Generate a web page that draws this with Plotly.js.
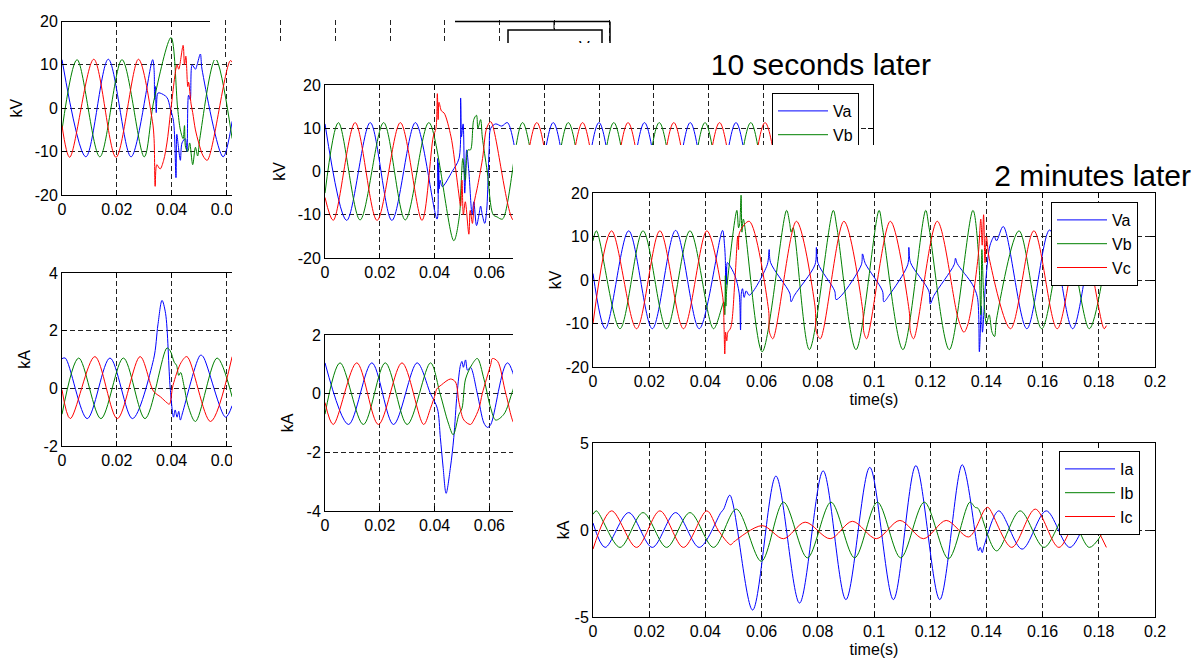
<!DOCTYPE html>
<html>
<head>
<meta charset="utf-8">
<script src="https://cdn.plot.ly/plotly-3.0.1.min.js"></script>
<style>
  html, body { margin: 0; padding: 0; background: #fff; }
  body { position: relative; width: 1198px; height: 663px; overflow: hidden; }
  .shot { position: absolute; background: #fff; overflow: hidden; }
</style>
</head>
<body>
<div id="shot1" class="shot" style="left:0px;top:0px;width:620px;height:663px"></div>
<div id="shot2" class="shot" style="left:210px;top:0px;width:420px;height:60px"></div>
<div id="shot3" class="shot" style="left:232px;top:43px;width:966px;height:620px"></div>
<div id="shot4" class="shot" style="left:513px;top:145px;width:685px;height:518px"></div>
<script>
// ---------------- tick labels ----------------
const timeTickVals = [0, 0.02, 0.04, 0.06, 0.08, 0.1, 0.12, 0.14, 0.16, 0.18, 0.2];
const timeTickText = ['0', '0.02', '0.04', '0.06', '0.08', '0.1', '0.12', '0.14', '0.16', '0.18', '0.2'];
const kvTickVals = [-20, -10, 0, 10, 20];
const kvTickText = ['-20', '-10', '0', '10', '20'];
const kaTickValsB = [-2, 0, 2, 4];
const kaTickTextB = ['-2', '0', '2', '4'];
const kaTickValsD = [-4, -2, 0, 2];
const kaTickTextD = ['-4', '-2', '0', '2'];
const kaTickValsF = [-5, 0, 5];
const kaTickTextF = ['-5', '0', '5'];

// ---------------- first capture: voltages (kV) ----------------
const A_va_t = [0,0.0087,0.0169,0.0252,0.0331,0.0336,0.0338,0.0341,0.0344,0.0350,0.0358,0.0383,0.0395,0.0407,0.0416,0.0419,0.0425,0.0432,0.0438,0.0450,0.0456,0.0462,0.0468,0.0475,0.0487,0.0493,0.0505,0.0511,0.0588,0.0621];
const A_va_v = [11.2,-11.2,11.3,-11.2,11.2,9,2,5,-1,3.5,3.5,2.5,0,-3,-16,-6,-9,-12,-8,-7,-10,3,2,10,9,10,12.5,9,-11.2,-3];
const A_vb_t = [0,0.0055,0.0138,0.0219,0.0300,0.0336,0.0398,0.0422,0.0432,0.0442,0.0447,0.0451,0.0459,0.0466,0.0477,0.0487,0.0495,0.0503,0.0560,0.0621];
const A_vb_v = [-5,11.2,-11.2,11.2,-11.2,2,16.3,0,-5,-7,-4,-9,-10,-8,-13,-9,-11,-7,11.4,-7];
const A_vc_t = [0,0.0028,0.0116,0.0197,0.0279,0.0330,0.0336,0.0340,0.0346,0.0358,0.0371,0.0383,0.0389,0.0398,0.0420,0.0426,0.0442,0.0447,0.0452,0.0459,0.0462,0.0471,0.0477,0.0487,0.0499,0.0515,0.0530,0.0615,0.0632];
const A_vc_v = [-4,-11.3,11.3,-11.3,11.3,-3,-7,-18,-13,-14,-12,-8,-5,0,10,9,14.5,10,12,5,6,1,-1,-5,-8,-11,-12,11,9];

// ---------------- first capture: currents (kA) ----------------
const B_ia_t = [0,0.0012,0.0092,0.0175,0.0257,0.0334,0.0350,0.0365,0.0378,0.0395,0.0407,0.0413,0.0420,0.0426,0.0432,0.0440,0.0505,0.0515,0.0597,0.0621];
const B_ia_v = [1.03,1.05,-1.05,1.05,-1.05,1.0,2.2,3.05,2.6,0,-1.0,-0.75,-1.0,-0.8,-1.1,-0.85,1.15,1.1,-1.0,-0.6];
const B_ib_t = [0,0.0061,0.0142,0.0224,0.0303,0.0383,0.0395,0.0410,0.0418,0.0426,0.0433,0.0445,0.0460,0.0487,0.0566,0.0621];
const B_ib_v = [-0.9,1.05,-1.05,1.05,-1.05,1.4,1.3,0.9,0.8,0.45,0.55,0.1,-0.6,-1.15,1.05,-0.3];
const B_ic_t = [0,0.0030,0.0120,0.0202,0.0285,0.0334,0.0360,0.0383,0.0392,0.0405,0.0435,0.0456,0.0542,0.0621];
const B_ic_v = [-0.05,-1.05,1.1,-1.05,1.1,-0.1,-0.3,-0.5,-0.55,0.1,0.9,1.1,-1.15,1.1];

// ---------------- 10 seconds later: voltages (kV) ----------------
const C_va_t = [0,0.0079,0.0165,0.0244,0.0330,0.0409,0.0411,0.0413,0.0415,0.0417,0.0420,0.0428,0.0464,0.0489,0.0495,0.0498,0.0504,0.0510,0.0517,0.0525,0.0537,0.0543,0.0553,0.0562,0.0568,0.0574,0.0583,0.0590,0.0599,0.0605,0.0623,0.0645,0.0666,0.0750,0.0833,0.0916,0.1000,0.1083,0.1166,0.1250,0.1333,0.1416,0.1500,0.1583,0.1666,0.1720];
const C_va_v = [11,-11.3,11.3,-11.3,11.3,-11,3,-5,2,-4,-2,-3.5,0,3,17,8,11,-5,5,0,-10,-7,-12.5,-10,-8,-10,-12,-9,5,10,11,10.5,11.3,-11.3,11.3,-11.3,11.3,-11.3,11.3,-11.3,11.3,-11.3,11.3,-11.3,11.3,0];
const C_vb_t = [0,0.0049,0.0128,0.0214,0.0293,0.0379,0.0470,0.0491,0.0496,0.0503,0.0512,0.0522,0.0531,0.0543,0.0553,0.0558,0.0568,0.0574,0.0592,0.0614,0.0628,0.0648,0.0721,0.0805,0.0888,0.0971,0.1054,0.1137,0.1220,0.1304,0.1387,0.1470,0.1554,0.1637,0.1720];
const C_vb_v = [-5,11.3,-11.2,11.3,-11.2,11.3,-16,-10,-4,3,-2,5,5,12,13,10,12,8,0,-10,-10.5,-11,11.3,-11.3,11.3,-11.3,11.3,-11.3,11.3,-11.3,11.3,-11.3,11.3,-11.3,5];
const C_vc_t = [0,0.0030,0.0110,0.0190,0.0275,0.0354,0.0395,0.0405,0.0410,0.0413,0.0416,0.0425,0.0435,0.0460,0.0478,0.0488,0.0495,0.0500,0.0505,0.0512,0.0525,0.0530,0.0538,0.0545,0.0555,0.0575,0.0590,0.0605,0.0689,0.0773,0.0856,0.0940,0.1023,0.1106,0.1190,0.1273,0.1356,0.1440,0.1523,0.1606,0.1690,0.1720];
const C_vc_v = [-6,-11.3,11.3,-11.3,11.3,-11.3,8,10,18,12,16,14,13.5,8,0,-5,-8,-2,-10,-7,-14.5,-9,-12,-7,-4,3,10,11.5,-11.3,11.3,-11.3,11.3,-11.3,11.3,-11.3,11.3,-11.3,11.3,-11.3,11.3,-11.3,-7];

// ---------------- 10 seconds later: currents (kA) ----------------
const D_ia_t = [0,0.0086,0.0171,0.0250,0.0336,0.0385,0.0410,0.0421,0.0431,0.0442,0.0458,0.0470,0.0482,0.0495,0.0500,0.0505,0.0513,0.0520,0.0531,0.0556,0.0580,0.0593,0.0605,0.0666,0.0750,0.0800];
const D_ia_v = [1.05,-1.05,1.05,-1.05,1.05,0,-0.5,-1.5,-2.5,-3.4,-2.5,-1.5,0,1.0,1.1,0.9,1.15,0.8,0.9,0,-1.0,-1.15,-1.05,1.05,-1.05,0];
const D_ib_t = [0,0.0055,0.0140,0.0220,0.0300,0.0385,0.0420,0.0450,0.0468,0.0489,0.0500,0.0513,0.0537,0.0556,0.0580,0.0605,0.0623,0.0653,0.0685,0.0720,0.0800];
const D_ib_v = [-0.7,1.05,-1.05,1.05,-1.05,1.05,0,-1.0,-1.4,-0.7,-0.5,0.5,1.0,1.2,0.5,-0.5,-0.9,-0.7,0.1,1.05,-0.5];
const D_ic_t = [0,0.0030,0.0116,0.0195,0.0281,0.0360,0.0385,0.0403,0.0407,0.0425,0.0458,0.0476,0.0489,0.0507,0.0531,0.0543,0.0562,0.0574,0.0605,0.0611,0.0630,0.0660,0.0695,0.0780];
const D_ic_v = [-0.3,-1.05,1.05,-1.05,1.05,-1.05,-0.5,0,0.15,0.3,0.5,0.4,-0.3,-0.9,-1.05,-0.9,-0.5,0,1.0,1.2,1.1,0,-1.05,1.05];

// ---------------- 2 minutes later: voltages (kV) ----------------
const E_va_t = [0,0.0044,0.0127,0.0211,0.0294,0.0378,0.0461,0.0468,0.0471,0.0472,0.0474,0.0476,0.0478,0.0485,0.0505,0.0520,0.0525,0.0528,0.0532,0.0538,0.0545,0.0556,0.0620,0.0627,0.0632,0.0700,0.0705,0.0717,0.0790,0.0795,0.0801,0.0860,0.0865,0.0885,0.0955,0.0959,0.0969,0.1030,0.1035,0.1054,0.1120,0.1124,0.1130,0.1195,0.1200,0.1214,0.1285,0.1290,0.1296,0.1350,0.1368,0.1375,0.1382,0.1386,0.1398,0.1413,0.1428,0.1436,0.1460,0.1544,0.1625,0.1707,0.1790,0.1827];
const E_va_v = [1.5,-11.2,11.3,-11.2,11.4,-11.2,11.4,8,4.5,-2,3,-1,4,3.5,1,-3,-11.5,-3,-2,-4,-2.5,-3.5,3.5,7,4,-3,-5,-3.5,3.5,7.5,3.8,-2.5,-4.5,-3.5,3.5,6,3.8,-2.5,-5,-3.5,3.5,7.5,4,-2.5,-5.5,-3.5,3.5,5,3.8,-1,-4,-16.5,-6,-12,0,8,10,9,12.3,-11.2,11.5,-11.2,11.3,8];
const E_vb_t = [0,0.0012,0.0096,0.0178,0.0262,0.0345,0.0429,0.0466,0.0469,0.0471,0.0473,0.0476,0.0512,0.0518,0.0522,0.0527,0.0530,0.0535,0.0602,0.0689,0.0700,0.0705,0.0712,0.0770,0.0855,0.0868,0.0936,0.1018,0.1030,0.1103,0.1184,0.1196,0.1268,0.1352,0.1372,0.1380,0.1384,0.1390,0.1400,0.1410,0.1420,0.1429,0.1436,0.1516,0.1597,0.1681,0.1766,0.1812];
const E_vb_v = [9,11.3,-11.2,11.3,-11.2,11.3,-11.2,-5,-8,1,-6,-2,16,12,13,19.5,11,14,-16.5,16,13,11,12,-16,16,12,-16,16,12,-16,16,12,-16,16,6,-8,7,-3,-10,-8,-12,-13,-9,11.3,-11.2,11.3,-11.2,0];
const E_vc_t = [0,0.0066,0.0155,0.0238,0.0322,0.0405,0.0462,0.0466,0.0469,0.0472,0.0476,0.0480,0.0490,0.0505,0.0515,0.0518,0.0522,0.0556,0.0625,0.0628,0.0640,0.0724,0.0790,0.0795,0.0809,0.0893,0.0960,0.0964,0.0974,0.1058,0.1125,0.1130,0.1141,0.1225,0.1300,0.1320,0.1335,0.1370,0.1380,0.1385,0.1390,0.1395,0.1400,0.1410,0.1486,0.1569,0.1652,0.1736,0.1819,0.1827];
const E_vc_v = [-10,11.3,-11.2,11.3,-11.2,11.3,-4,-10,-17,-12,-14,-12,-11,0,10,7,11,13.5,-7,-12,-13.5,13.5,-6,-12,-13.5,13.5,-7,-12,-13.5,13.5,-7,-12,-13.5,13.5,-9,-12,-10,5,14,8,15,4,10,5,-11.2,11.3,-11.2,11.3,-11.2,-10.5];

// ---------------- 2 minutes later: currents (kA) ----------------
const F_ia_t = [0,0.0043,0.0127,0.0211,0.0294,0.0378,0.0455,0.0465,0.0487,0.0568,0.0651,0.0735,0.0819,0.0900,0.0985,0.1069,0.1149,0.1234,0.1314,0.1368,0.1372,0.1378,0.1385,0.1392,0.1444,0.1527,0.1613,0.1697,0.1780,0.1830];
const F_ia_v = [0.4,-1.0,1.0,-1.0,1.0,-1.0,1.0,1.2,2.0,-4.6,3.1,-4.2,3.4,-4.0,3.6,-4.0,3.7,-4.0,3.75,-1.0,-1.2,-1.0,-1.3,-0.9,1.1,-1.1,1.1,-1.0,1.0,-0.2];
const F_ib_t = [0,0.0012,0.0096,0.0178,0.0262,0.0345,0.0429,0.0510,0.0599,0.0678,0.0763,0.0847,0.0931,0.1012,0.1095,0.1179,0.1265,0.1341,0.1360,0.1370,0.1436,0.1520,0.1605,0.1690,0.1766,0.1812];
const F_ib_v = [0.9,1.1,-1.0,1.0,-1.0,1.0,-1.0,1.2,-1.8,1.6,-1.6,1.6,-1.6,1.6,-1.6,1.6,-1.65,1.6,1.3,1.25,-1.2,1.1,-1.0,1.0,-1.0,-0.2];
const F_ic_t = [0,0.0066,0.0155,0.0238,0.0322,0.0405,0.0445,0.0490,0.0500,0.0602,0.0678,0.0755,0.0844,0.0923,0.1008,0.1092,0.1176,0.1257,0.1337,0.1395,0.1406,0.1490,0.1574,0.1658,0.1740,0.1827];
const F_ic_v = [-1.1,1.1,-1.0,1.1,-1.0,1.1,0,-0.85,-0.7,0.25,-0.5,0.45,-0.5,0.5,-0.5,0.55,-0.5,0.55,-0.4,1.2,1.3,-1.0,1.2,-1.0,1.1,-1.0];

// ---------------- helpers ----------------
const FONT = '"Liberation Sans", Arial, Helvetica, sans-serif';
const BLUE = '#0000ff', GREEN = '#008000', RED = '#ff0000';
const GRIDDASH = '5px,3px';

function line(t, v, color, name, xa, ya, showlegend, legend) {
  const tr = { x: t, y: v, type: 'scatter', mode: 'lines', name: name,
    line: { color: color, width: 1, shape: 'spline', smoothing: 0.9 },
    xaxis: xa, yaxis: ya, showlegend: !!showlegend, hoverinfo: 'skip' };
  if (legend) tr.legend = legend;
  return tr;
}
function dom(p0, p1, origin, size) { return [(p0 - origin) / size, (p1 - origin) / size]; }
function domY(top, bottom, origin, size) { return [1 - (bottom - origin) / size, 1 - (top - origin) / size]; }
function axisBase(extra) {
  return Object.assign({
    ticks: 'inside', ticklen: 5, tickwidth: 1, tickcolor: '#000',
    showline: true, linecolor: '#000', linewidth: 1, mirror: 'ticks',
    showgrid: true, gridcolor: '#222', gridwidth: 1, griddash: GRIDDASH,
    zeroline: false, fixedrange: true,
    tickfont: { family: FONT, size: 16, color: '#000' }
  }, extra);
}
function timeAxis(domain, anchor, title) {
  const a = axisBase({ domain: domain, anchor: anchor, range: [0, 0.2],
    tickmode: 'array', tickvals: timeTickVals, ticktext: timeTickText });
  if (title) a.title = { text: title, font: { family: FONT, size: 16, color: '#000' }, standoff: 4 };
  return a;
}
function valAxis(domain, anchor, range, vals, text, title, standoff) {
  return axisBase({ domain: domain, anchor: anchor, range: range,
    tickmode: 'array', tickvals: vals, ticktext: text,
    title: { text: title, font: { family: FONT, size: 16, color: '#000' }, standoff: standoff } });
}
const cfg = { staticPlot: true, displayModeBar: false };

// ---------------- capture 1 (left) ----------------
(function () {
  const W = 620, H = 663, L = 0, T = 0;
  const data = [
    line(A_va_t, A_va_v, BLUE, 'Va', 'x', 'y'),
    line(A_vb_t, A_vb_v, GREEN, 'Vb', 'x', 'y'),
    line(A_vc_t, A_vc_v, RED, 'Vc', 'x', 'y'),
    line(B_ia_t, B_ia_v, BLUE, 'Ia', 'x2', 'y2'),
    line(B_ib_t, B_ib_v, GREEN, 'Ib', 'x2', 'y2'),
    line(B_ic_t, B_ic_v, RED, 'Ic', 'x2', 'y2')
  ];
  const layout = {
    width: W, height: H, margin: { l: 0, r: 0, t: 0, b: 0 },
    paper_bgcolor: '#fff', plot_bgcolor: '#fff', showlegend: false,
    font: { family: FONT, size: 16, color: '#000' },
    xaxis: timeAxis(dom(62, 610, L, W), 'y'),
    yaxis: valAxis(domY(21.5, 195, T, H), 'x', [-20, 20], kvTickVals, kvTickText, 'kV', 8),
    xaxis2: timeAxis(dom(62, 610, L, W), 'y2'),
    yaxis2: valAxis(domY(273, 446, T, H), 'x2', [-2, 4], kaTickValsB, kaTickTextB, 'kA', 8)
  };
  Plotly.newPlot('shot1', data, layout, cfg);
})();

// ---------------- capture fragment (top strip) ----------------
(function () {
  const W = 420, H = 60, L = 210;
  const layout = {
    width: W, height: H, margin: { l: 0, r: 0, t: 0, b: 0 },
    paper_bgcolor: '#fff', plot_bgcolor: '#fff', showlegend: false,
    xaxis: { domain: [0, 1], range: [-0.0057, 0.1476], tickmode: 'array', tickvals: timeTickVals,
      showticklabels: false, ticks: '', showline: false, zeroline: false,
      showgrid: true, gridcolor: '#222', gridwidth: 1, griddash: GRIDDASH, fixedrange: true },
    yaxis: { domain: [0, 1 - 20 / H], range: [0, 1], visible: false, fixedrange: true },
    shapes: [
      { type: 'line', xref: 'paper', yref: 'paper', x0: (455 - L) / W, x1: (610 - L) / W, y0: 1 - 21.5 / H, y1: 1 - 21.5 / H, line: { color: '#000', width: 1.5 } },
      { type: 'line', xref: 'paper', yref: 'paper', x0: (610 - L) / W, x1: (610 - L) / W, y0: 1 - 21.5 / H, y1: 0, line: { color: '#000', width: 1.5 } },
      { type: 'line', xref: 'paper', yref: 'paper', x0: (554 - L) / W, x1: (554 - L) / W, y0: 1 - 21.5 / H, y1: 1 - 29 / H, line: { color: '#000', width: 1 } },
      { type: 'rect', xref: 'paper', yref: 'paper', x0: (508 - L) / W, x1: (602 - L) / W, y0: -0.3, y1: 1 - 30 / H, fillcolor: '#fff', line: { color: '#000', width: 1.5 } }
    ],
    annotations: [
      { text: 'Va', xref: 'paper', yref: 'paper', x: (588 - L) / W, y: 1 - 47 / H, showarrow: false,
        xanchor: 'center', yanchor: 'middle', font: { family: FONT, size: 16, color: '#000' } }
    ]
  };
  Plotly.newPlot('shot2', [], layout, cfg);
})();

// ---------------- capture 2: 10 seconds later ----------------
(function () {
  const W = 966, H = 620, L = 232, T = 43;
  const data = [
    line(C_va_t, C_va_v, BLUE, 'Va', 'x', 'y', true),
    line(C_vb_t, C_vb_v, GREEN, 'Vb', 'x', 'y', true),
    line(C_vc_t, C_vc_v, RED, 'Vc', 'x', 'y', true),
    line(D_ia_t, D_ia_v, BLUE, 'Ia', 'x2', 'y2'),
    line(D_ib_t, D_ib_v, GREEN, 'Ib', 'x2', 'y2'),
    line(D_ic_t, D_ic_v, RED, 'Ic', 'x2', 'y2')
  ];
  const layout = {
    width: W, height: H, margin: { l: 0, r: 0, t: 0, b: 0 },
    paper_bgcolor: '#fff', plot_bgcolor: '#fff', showlegend: true,
    font: { family: FONT, size: 16, color: '#000' },
    title: { text: '10 seconds later', font: { family: FONT, size: 30, color: '#000' },
      xref: 'paper', x: (931 - L) / W, xanchor: 'right', yref: 'container', y: 1 - (64 - T) / H, yanchor: 'middle' },
    legend: { x: (772 - L) / W, y: 1 - (93 - T) / H, xanchor: 'left', yanchor: 'top',
      bgcolor: '#fff', bordercolor: '#000', borderwidth: 1, itemwidth: 50,
      font: { family: FONT, size: 16, color: '#000' }, tracegroupgap: 0 },
    xaxis: timeAxis(dom(325, 873, L, W), 'y'),
    yaxis: valAxis(domY(85, 258, T, H), 'x', [-20, 20], kvTickVals, kvTickText, 'kV', 8),
    xaxis2: timeAxis(dom(325, 873, L, W), 'y2'),
    yaxis2: valAxis(domY(335, 511, T, H), 'x2', [-4, 2], kaTickValsD, kaTickTextD, 'kA', 8)
  };
  Plotly.newPlot('shot3', data, layout, cfg);
})();

// ---------------- capture 3: 2 minutes later ----------------
(function () {
  const W = 685, H = 518, L = 513, T = 145;
  const data = [
    line(E_va_t, E_va_v, BLUE, 'Va', 'x', 'y', true, 'legend'),
    line(E_vb_t, E_vb_v, GREEN, 'Vb', 'x', 'y', true, 'legend'),
    line(E_vc_t, E_vc_v, RED, 'Vc', 'x', 'y', true, 'legend'),
    line(F_ia_t, F_ia_v, BLUE, 'Ia', 'x2', 'y2', true, 'legend2'),
    line(F_ib_t, F_ib_v, GREEN, 'Ib', 'x2', 'y2', true, 'legend2'),
    line(F_ic_t, F_ic_v, RED, 'Ic', 'x2', 'y2', true, 'legend2')
  ];
  const legendStyle = { xanchor: 'left', yanchor: 'top', bgcolor: '#fff', bordercolor: '#000', borderwidth: 1,
    itemwidth: 50, font: { family: FONT, size: 16, color: '#000' }, tracegroupgap: 0 };
  const layout = {
    width: W, height: H, margin: { l: 0, r: 0, t: 0, b: 0 },
    paper_bgcolor: '#fff', plot_bgcolor: '#fff', showlegend: true,
    font: { family: FONT, size: 16, color: '#000' },
    title: { text: '2 minutes later', font: { family: FONT, size: 30, color: '#000' },
      xref: 'paper', x: (1191 - L) / W, xanchor: 'right', yref: 'container', y: 1 - (175 - T) / H, yanchor: 'middle' },
    legend: Object.assign({ x: (1051 - L) / W, y: 1 - (202 - T) / H }, legendStyle),
    legend2: Object.assign({ x: (1059 - L) / W, y: 1 - (451 - T) / H }, legendStyle),
    xaxis: timeAxis(dom(593, 1155, L, W), 'y', 'time(s)'),
    yaxis: valAxis(domY(193, 367, T, H), 'x', [-20, 20], kvTickVals, kvTickText, 'kV', 0),
    xaxis2: timeAxis(dom(593, 1155, L, W), 'y2', 'time(s)'),
    yaxis2: valAxis(domY(443, 617, T, H), 'x2', [-5, 5], kaTickValsF, kaTickTextF, 'kA', 0)
  };
  Plotly.newPlot('shot4', data, layout, cfg);
})();
</script>
</body>
</html>
